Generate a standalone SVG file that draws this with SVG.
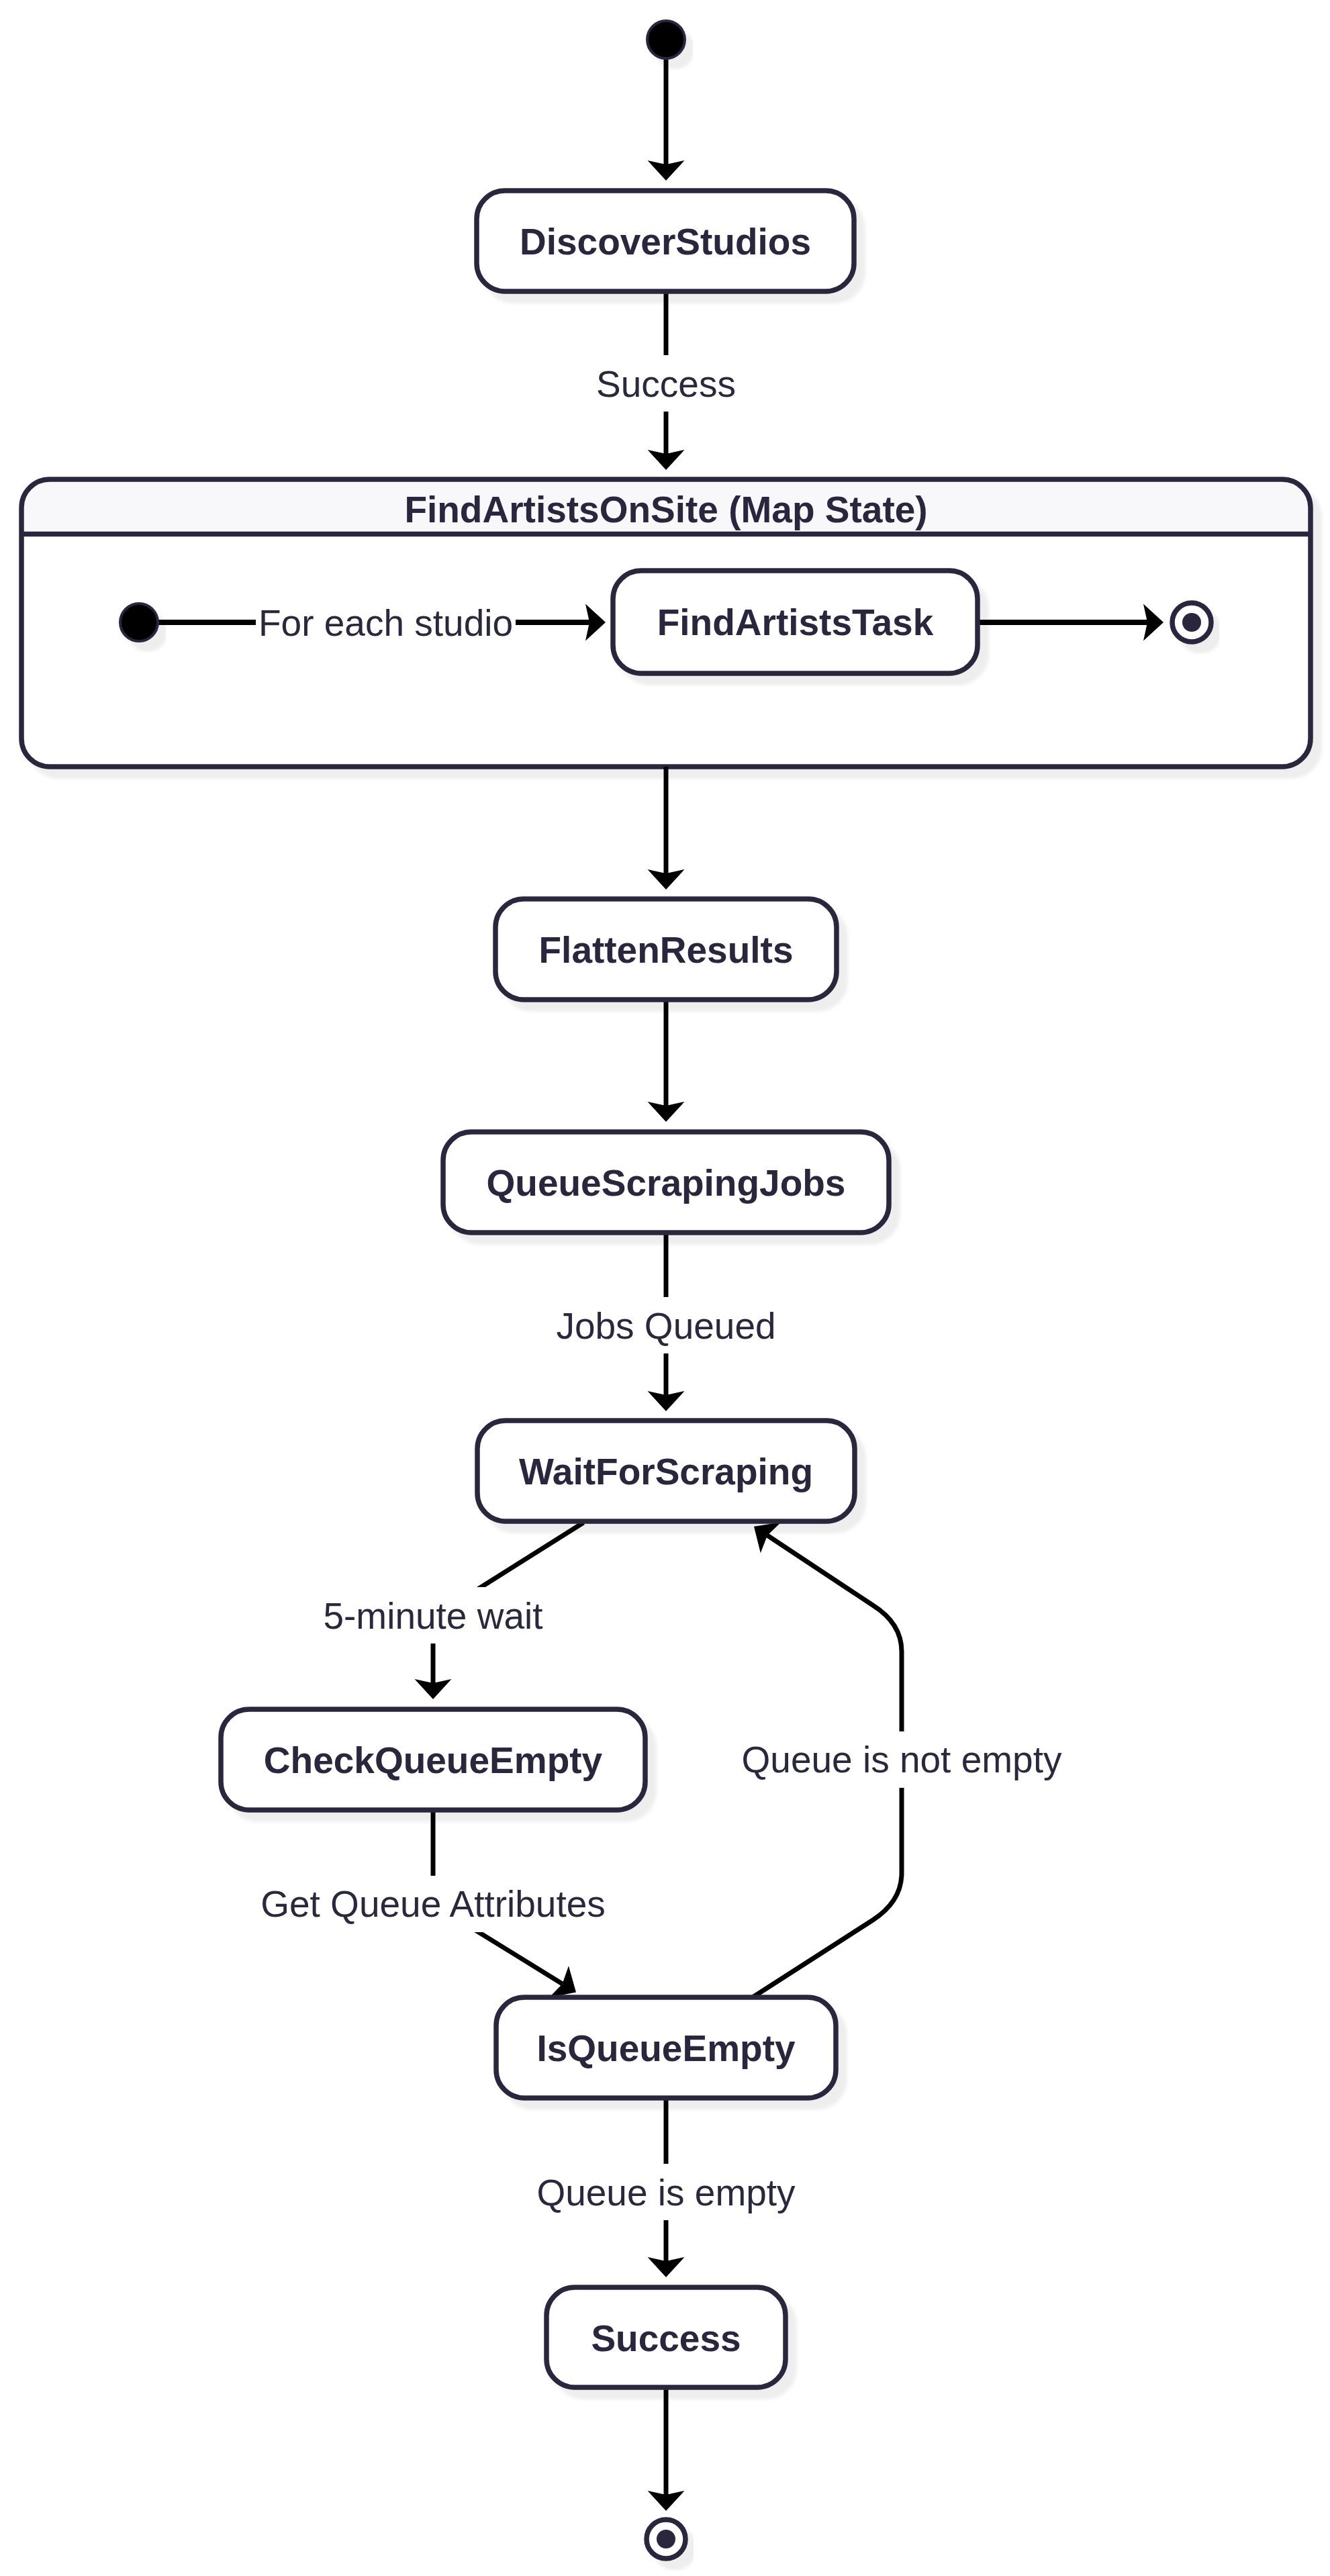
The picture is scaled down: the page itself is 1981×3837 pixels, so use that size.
<svg xmlns="http://www.w3.org/2000/svg" width="1981" height="3837" viewBox="0 0 1981 3837">
<style>
.node rect{fill:#ffffff;stroke:#29283d;stroke-width:7.5}
.ntext{font-family:"Liberation Sans",Arial,sans-serif;font-weight:bold;font-size:55px;fill:#29283d;text-anchor:middle}
.ltext{font-family:"Liberation Sans",Arial,sans-serif;font-size:55px;fill:#29283d;text-anchor:middle}
.edge{fill:none;stroke:#000;stroke-width:7;marker-end:url(#arrow)}
.edge.inner{stroke-width:8}
.lbg{fill:#ffffff}
.start{fill:#000;stroke:#29283d;stroke-width:4}
.endo{fill:#fff;stroke:#29283d;stroke-width:7.5}
.endi{fill:#29283d}
</style>
<defs>
<filter id="sh" x="-10%" y="-10%" width="130%" height="140%">
<feDropShadow dx="13" dy="14" stdDeviation="2.5" flood-color="#000" flood-opacity="0.065"/>
</filter>
<marker id="arrow" markerUnits="userSpaceOnUse" markerWidth="60" markerHeight="60" refX="0" refY="0" orient="auto" overflow="visible">
<path d="M-6,-27.5 L24,0 L-6,27.5 L0,0 Z" fill="#000"/>
</marker>
</defs>
<rect width="1981" height="3837" fill="#ffffff"/>

<g id="container-FindArtistsOnSite" filter="url(#sh)">
<path d="M74,714 H1910 A42,42 0 0 1 1952,756 V1100 A42,42 0 0 1 1910,1142 H74 A42,42 0 0 1 32,1100 V756 A42,42 0 0 1 74,714 Z" fill="#ffffff" stroke="none"/>
<path d="M74,714 H1910 A42,42 0 0 1 1952,756 V795.5 H32 V756 A42,42 0 0 1 74,714 Z" fill="#f8f8fa"/>
<path d="M74,714 H1910 A42,42 0 0 1 1952,756 V1100 A42,42 0 0 1 1910,1142 H74 A42,42 0 0 1 32,1100 V756 A42,42 0 0 1 74,714 Z" fill="none" stroke="#29283d" stroke-width="7.5"/>
<line x1="32" y1="795.5" x2="1952" y2="795.5" stroke="#29283d" stroke-width="7.5"/>
<text class="ntext" x="992" y="778">FindArtistsOnSite (Map State)</text>
</g>

<g id="connectors">
<path class="edge" d="M992,88 L992,245"/>
<path class="edge" d="M992,434 L992,676"/>
<path class="edge" d="M992,1142 L992,1301"/>
<path class="edge" d="M992,1489 L992,1647"/>
<path class="edge" d="M992,1836 L992,2078"/>
<path class="edge" d="M869,2268 L715,2365 Q645,2408 645,2450 L645,2507"/>
<path class="edge" d="M645,2696 L645,2800 Q645,2845 700,2870 L837.6,2954.9"/>
<path class="edge" d="M1121,2975 L1300,2860 Q1343,2832 1343,2790 L1343,2460 Q1343,2418 1300,2391 L1143,2287"/>
<path class="edge" d="M992,3125 L992,3368"/>
<path class="edge" d="M992,3556 L992,3716"/>
<path class="edge inner" d="M235,927 L878,927"/>
<path class="edge inner" d="M1456,927 L1709,927"/>
</g>

<g id="edge-labels">
<rect class="lbg" x="888" y="529" width="208" height="84"/>
<text class="ltext" x="992" y="591">Success</text>
<rect class="lbg" x="381" y="885" width="387" height="84"/>
<text class="ltext" x="574.5" y="947">For each studio</text>
<rect class="lbg" x="827" y="1932" width="330" height="84"/>
<text class="ltext" x="992" y="1994">Jobs Queued</text>
<rect class="lbg" x="480" y="2364" width="330" height="84"/>
<text class="ltext" x="645" y="2426">5-minute wait</text>
<rect class="lbg" x="388" y="2794" width="515" height="84"/>
<text class="ltext" x="645" y="2855">Get Queue Attributes</text>
<rect class="lbg" x="1102" y="2579" width="482" height="84"/>
<text class="ltext" x="1343" y="2640">Queue is not empty</text>
<rect class="lbg" x="799" y="3223" width="386" height="84"/>
<text class="ltext" x="992" y="3285">Queue is empty</text>
</g>

<g id="start" filter="url(#sh)"><circle class="start" cx="992" cy="59" r="28"/></g>
<g id="inner-start" filter="url(#sh)"><circle class="start" cx="207" cy="927" r="28"/></g>
<g id="inner-end" filter="url(#sh)"><circle class="endo" cx="1775" cy="927" r="29"/><circle class="endi" cx="1775" cy="927" r="14"/></g>
<g id="end" filter="url(#sh)"><circle class="endo" cx="992" cy="3782" r="29"/><circle class="endi" cx="992" cy="3782" r="14"/></g>

<g id="DiscoverStudios" class="node" filter="url(#sh)"><rect x="710" y="284" width="562" height="150" rx="42"/><text class="ntext" x="991" y="379">DiscoverStudios</text></g>
<g id="FindArtistsTask" class="node" filter="url(#sh)"><rect x="913" y="850" width="543" height="153" rx="42"/><text class="ntext" x="1184.5" y="946">FindArtistsTask</text></g>
<g id="FlattenResults" class="node" filter="url(#sh)"><rect x="738" y="1339" width="508" height="150" rx="42"/><text class="ntext" x="992" y="1434">FlattenResults</text></g>
<g id="QueueScrapingJobs" class="node" filter="url(#sh)"><rect x="660" y="1686" width="664" height="150" rx="42"/><text class="ntext" x="992" y="1781">QueueScrapingJobs</text></g>
<g id="WaitForScraping" class="node" filter="url(#sh)"><rect x="711" y="2116" width="562" height="150" rx="42"/><text class="ntext" x="992" y="2211">WaitForScraping</text></g>
<g id="CheckQueueEmpty" class="node" filter="url(#sh)"><rect x="329" y="2546" width="632" height="150" rx="42"/><text class="ntext" x="645" y="2641">CheckQueueEmpty</text></g>
<g id="IsQueueEmpty" class="node" filter="url(#sh)"><rect x="739" y="2975" width="506" height="150" rx="42"/><text class="ntext" x="992" y="3070">IsQueueEmpty</text></g>
<g id="Success" class="node" filter="url(#sh)"><rect x="814" y="3407" width="356" height="149" rx="42"/><text class="ntext" x="992" y="3502">Success</text></g>
</svg>
